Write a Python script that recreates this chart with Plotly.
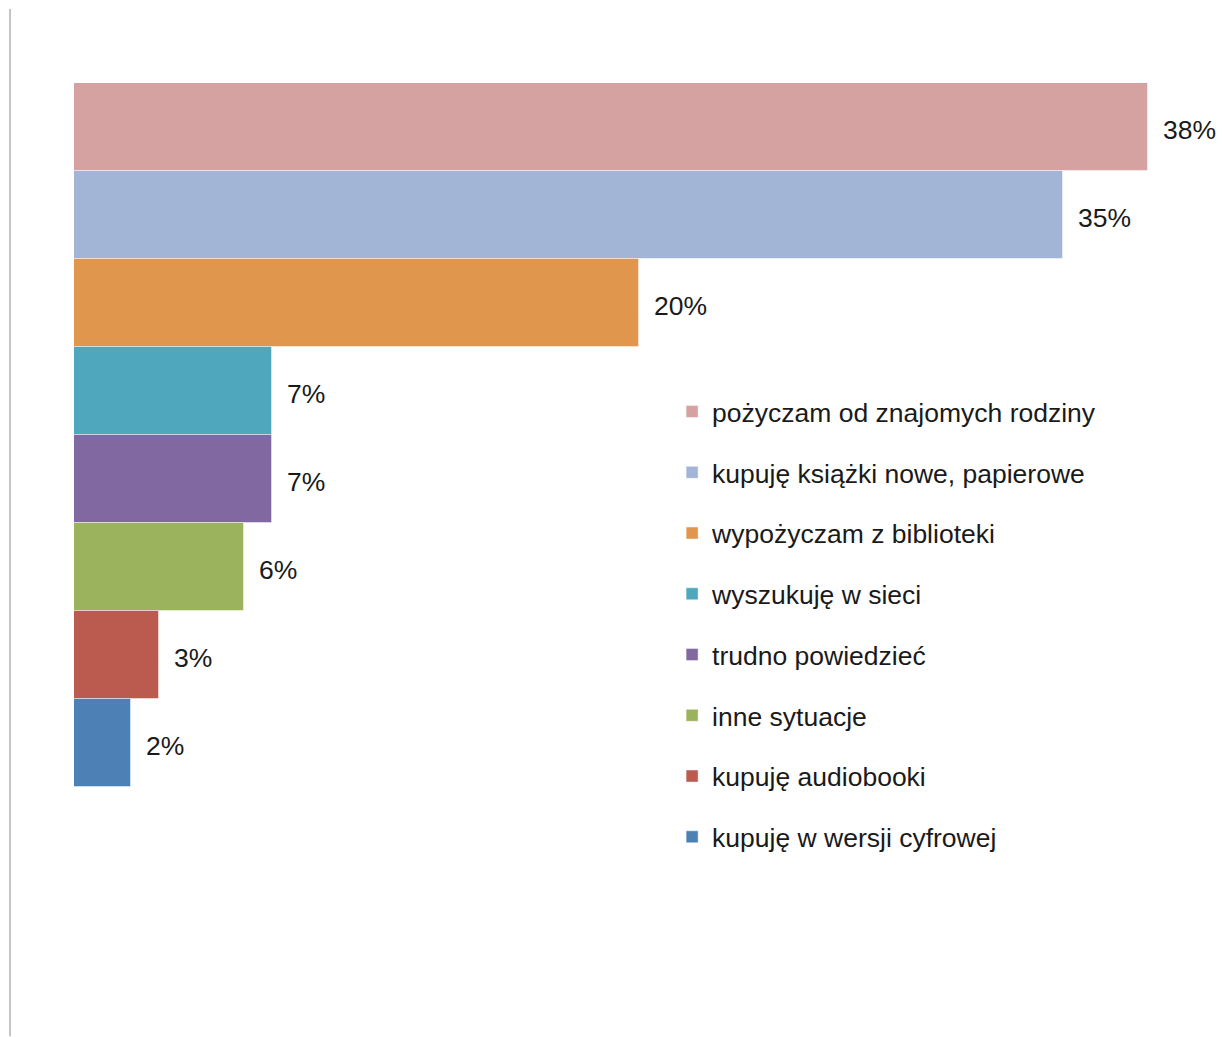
import plotly.graph_objects as go

# Survey answers, top to bottom, with their shares in percent
categories = [
    "pożyczam od znajomych rodziny",
    "kupuję książki nowe, papierowe",
    "wypożyczam z biblioteki",
    "wyszukuję w sieci",
    "trudno powiedzieć",
    "inne sytuacje",
    "kupuję audiobooki",
    "kupuję w wersji cyfrowej",
]
values = [38, 35, 20, 7, 7, 6, 3, 2]
colors = ["#D6A2A1", "#A3B5D7", "#E0964D", "#4FA7BD", "#8168A0", "#9BB35C", "#BB5A4F", "#4D80B5"]

fig = go.Figure()
for name, val, col in zip(categories, values, colors):
    fig.add_trace(go.Bar(
        x=[val], y=[name], orientation="h", name=name,
        legendgroup=name,
        marker=dict(color=col, line=dict(color="rgba(255,255,255,0.45)", width=1)),
        hoverinfo="skip",
    ))

# Percentage labels to the right of each bar
annotations = [
    dict(x=val, y=name, xref="x", yref="y", text=f"{val}%", showarrow=False,
         xanchor="left", xshift=13, yshift=-3, font=dict(size=26.5, color="#1a1a1a"))
    for name, val in zip(categories, values)
]

fig.update_layout(
    width=1224, height=1037,
    margin=dict(l=74, r=20, t=83, b=250),
    paper_bgcolor="white", plot_bgcolor="white",
    barmode="overlay", bargap=0,
    font=dict(family="Liberation Sans, Arial, sans-serif", size=26.5, color="#1a1a1a"),
    xaxis=dict(range=[0, 40], visible=False, fixedrange=True),
    yaxis=dict(categoryorder="array", categoryarray=categories, autorange="reversed",
               visible=False, fixedrange=True),
    showlegend=True,
    legend=dict(x=0.5293, y=0.567, xanchor="left", yanchor="top",
                traceorder="grouped", tracegroupgap=23.3,
                font=dict(size=26.5, color="#1a1a1a"), bgcolor="rgba(0,0,0,0)"),
    annotations=annotations,
    shapes=[dict(type="line", xref="paper", yref="paper",
                 x0=-0.0566, x1=-0.0566, y0=1.105, y1=-0.354,
                 line=dict(color="#c4c4c4", width=2))],
)

fig.write_html("out.html")
